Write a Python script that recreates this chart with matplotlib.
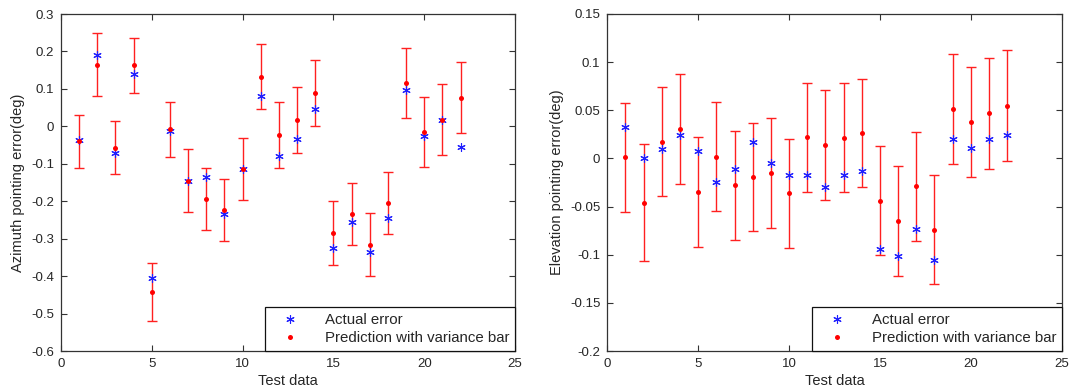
import matplotlib
matplotlib.use("Agg")
import matplotlib.pyplot as plt
from matplotlib.ticker import FuncFormatter

plt.rcParams['font.family'] = ['Liberation Sans', 'DejaVu Sans']

test_idx = list(range(1, 23))

az_actual = [-0.037, 0.191, -0.070, 0.140, -0.406, -0.013, -0.145, -0.136, -0.235, -0.115,
             0.081, -0.079, -0.033, 0.047, -0.325, -0.255, -0.336, -0.244, 0.096, -0.025,
             0.017, -0.055]
az_pred = [-0.040, 0.165, -0.057, 0.163, -0.443, -0.008, -0.145, -0.194, -0.223, -0.113,
           0.133, -0.023, 0.018, 0.088, -0.284, -0.235, -0.316, -0.205, 0.115, -0.015,
           0.018, 0.076]
az_err = [0.071, 0.084, 0.071, 0.073, 0.077, 0.073, 0.084, 0.083, 0.083, 0.083,
          0.088, 0.088, 0.088, 0.088, 0.085, 0.083, 0.084, 0.083, 0.093, 0.093,
          0.094, 0.095]

el_actual = [0.0326, 0.000, 0.0097, 0.024, 0.0076, -0.025, -0.011, 0.017, -0.0045, -0.0174,
             -0.0167, -0.0295, -0.0174, -0.0132, -0.0938, -0.101, -0.0736, -0.105, 0.0198, 0.011,
             0.0198, 0.024]
el_pred = [0.001, -0.046, 0.0175, 0.0305, -0.035, 0.002, -0.028, -0.019, -0.0155, -0.036,
           0.0218, 0.0138, 0.0215, 0.0265, -0.0438, -0.0646, -0.029, -0.0743, 0.0517, 0.0377,
           0.047, 0.0547]
el_err = [0.057, 0.061, 0.0565, 0.057, 0.057, 0.057, 0.0565, 0.056, 0.057, 0.0566,
          0.0566, 0.057, 0.0567, 0.056, 0.057, 0.057, 0.0564, 0.0566, 0.057, 0.0571,
          0.0578, 0.0578]

x_ticks = [0, 5, 10, 15, 20, 25]
az_yticks = [0.3, 0.2, 0.1, 0, -0.1, -0.2, -0.3, -0.4, -0.5, -0.6]
el_yticks = [0.15, 0.1, 0.05, 0, -0.05, -0.1, -0.15, -0.2]

text_color = '#262626'
spine_color = '#333333'

fig = plt.figure(figsize=(10.69, 3.92), dpi=100)
ax1 = fig.add_axes([61/1069, 1 - 351/392, (515 - 61)/1069, (351 - 14)/392])
ax2 = fig.add_axes([607.3/1069, 1 - 351/392, (1061.7 - 607.3)/1069, (351 - 14)/392])

star = (6, 2, 0)
fmt = FuncFormatter(lambda v, p: ('%g' % round(v, 3)) if abs(v) > 1e-12 else '0')

for ax, act, pred, err, yt, ylab in [
        (ax1, az_actual, az_pred, az_err, az_yticks, 'Azimuth pointing error(deg)'),
        (ax2, el_actual, el_pred, el_err, el_yticks, 'Elevation pointing error(deg)')]:
    ax.errorbar(test_idx, pred, yerr=err, fmt='none', ecolor='#ff2020', elinewidth=1.0,
                capsize=3.3, capthick=1.0, zorder=2)
    ax.plot(test_idx, act, linestyle='none', marker=star, color='#2020ff', markersize=6,
            markeredgewidth=0.8, label='Actual error', zorder=3)
    ax.plot(test_idx, pred, linestyle='none', marker='o', color='#ff0000', markersize=3.6,
            markeredgewidth=0, label='Prediction with variance bar', zorder=4)
    ax.set_xlim(0, 25)
    ax.set_ylim(min(yt), max(yt))
    ax.set_xticks(x_ticks)
    ax.set_yticks(yt)
    ax.yaxis.set_major_formatter(fmt)
    ax.tick_params(direction='in', top=True, right=True, length=4, width=0.8,
                   colors=spine_color, labelcolor=text_color, labelsize=9.5, pad=5)
    for s in ax.spines.values():
        s.set_color(spine_color)
        s.set_linewidth(0.9)
    ax.set_xlabel('Test data', fontsize=10.5, color=text_color, labelpad=3)
    ax.set_ylabel(ylab, fontsize=10.5, color=text_color, labelpad=4)
    leg = ax.legend(loc='lower right', borderaxespad=0, fancybox=False, framealpha=1,
                    edgecolor='#111111', fontsize=10.8, handlelength=2.6, handletextpad=1.0,
                    borderpad=0.38, labelspacing=0.3)
    leg.get_frame().set_linewidth(0.9)
    for t in leg.get_texts():
        t.set_color(text_color)

fig.savefig('out.png', dpi=100)
